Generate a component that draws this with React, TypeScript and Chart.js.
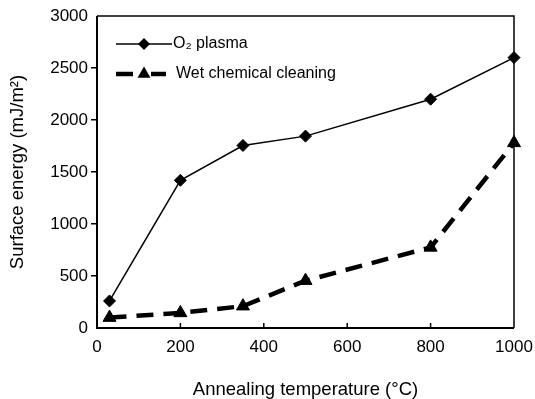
import React, { useEffect, useRef } from 'react';
import { Chart, registerables } from 'chart.js';

Chart.register(...registerables);

const temperatures = [30, 200, 350, 500, 800, 1000];
const o2Plasma = [260, 1420, 1755, 1845, 2200, 2600];
const wetCleaning = [100, 145, 210, 455, 775, 1780];
const xTicks = [0, 200, 400, 600, 800, 1000];
const yTicks = [0, 500, 1000, 1500, 2000, 2500, 3000];
const seriesLabels = ['O\u2082 plasma', 'Wet chemical cleaning'];
const xTitle = 'Annealing temperature (\u00B0C)';
const yTitle = 'Surface energy (mJ/m\u00B2)';

const FONT = "'Liberation Sans', Arial, sans-serif";

const framePlugin = {
  id: 'frame',
  afterDraw(chart: any) {
    const { ctx, chartArea, scales } = chart;
    const { left, right, top, bottom } = chartArea;
    const x = scales.x;
    ctx.save();
    ctx.strokeStyle = '#000';
    ctx.lineWidth = 1.5;
    ctx.beginPath();
    ctx.moveTo(left, top);
    ctx.lineTo(right, top);
    ctx.lineTo(right, bottom);
    ctx.stroke();
    ctx.lineWidth = 2;
    ctx.beginPath();
    ctx.moveTo(left, top);
    ctx.lineTo(left, bottom);
    ctx.lineTo(right, bottom);
    ctx.stroke();
    ctx.lineWidth = 1.5;
    xTicks.forEach((v) => {
      if (v <= x.min || v >= x.max) return;
      const px = x.getPixelForValue(v);
      ctx.beginPath();
      ctx.moveTo(px, bottom);
      ctx.lineTo(px, bottom - 5);
      ctx.stroke();
    });
    ctx.restore();
  },
};

const legendPlugin = {
  id: 'insideLegend',
  afterDraw(chart: any) {
    const { ctx, chartArea } = chart;
    const x0 = chartArea.left + 19;
    const y1 = chartArea.top + 28;
    const y2 = chartArea.top + 58;
    ctx.save();
    ctx.fillStyle = '#000';
    ctx.strokeStyle = '#000';
    ctx.lineWidth = 1.5;
    ctx.beginPath();
    ctx.moveTo(x0, y1);
    ctx.lineTo(x0 + 56, y1);
    ctx.stroke();
    const cx = x0 + 28;
    const r = 6;
    ctx.beginPath();
    ctx.moveTo(cx, y1 - r);
    ctx.lineTo(cx + r, y1);
    ctx.lineTo(cx, y1 + r);
    ctx.lineTo(cx - r, y1);
    ctx.closePath();
    ctx.fill();
    ctx.lineWidth = 4.5;
    ctx.beginPath();
    ctx.moveTo(x0, y2);
    ctx.lineTo(x0 + 17, y2);
    ctx.moveTo(x0 + 35, y2);
    ctx.lineTo(x0 + 50, y2);
    ctx.stroke();
    const tr = 7.5;
    ctx.beginPath();
    ctx.moveTo(cx, y2 - tr);
    ctx.lineTo(cx + tr * 0.866, y2 + tr / 2);
    ctx.lineTo(cx - tr * 0.866, y2 + tr / 2);
    ctx.closePath();
    ctx.fill();
    ctx.font = `16px ${FONT}`;
    ctx.textBaseline = 'middle';
    ctx.textAlign = 'left';
    ctx.fillText(seriesLabels[0], x0 + 57, y1);
    ctx.fillText(seriesLabels[1], x0 + 60, y2);
    ctx.restore();
  },
};

export default function App() {
  const ref = useRef<HTMLCanvasElement | null>(null);
  useEffect(() => {
    if (!ref.current) return;
    const chart = new Chart(ref.current, {
      type: 'line',
      data: {
        datasets: [
          {
            label: seriesLabels[0],
            data: temperatures.map((t, i) => ({ x: t, y: o2Plasma[i] })),
            borderColor: '#000',
            backgroundColor: '#000',
            borderWidth: 1.5,
            pointStyle: 'rectRot',
            pointRadius: 6,
            pointBackgroundColor: '#000',
            pointBorderColor: '#000',
            pointBorderWidth: 1,
            clip: false as any,
            tension: 0,
          },
          {
            label: seriesLabels[1],
            data: temperatures.map((t, i) => ({ x: t, y: wetCleaning[i] })),
            borderColor: '#000',
            backgroundColor: '#000',
            borderWidth: 4.5,
            borderDash: [17, 10],
            pointStyle: 'triangle',
            pointRadius: 7.5,
            pointBackgroundColor: '#000',
            pointBorderColor: '#000',
            pointBorderWidth: 1,
            clip: false as any,
            tension: 0,
          },
        ],
      },
      options: {
        responsive: false,
        animation: false,
        devicePixelRatio: 1,
        layout: { padding: { top: 16, right: 21, left: 0, bottom: 0 } },
        plugins: {
          legend: { display: false },
          tooltip: { enabled: false },
        },
        scales: {
          x: {
            type: 'linear',
            min: 0,
            max: 1000,
            afterBuildTicks: (scale: any) => {
              scale.ticks = xTicks.map((v) => ({ value: v }));
            },
            afterFit: (scale: any) => {
              scale.height = 71;
              scale.paddingLeft = 0;
              scale.paddingRight = 0;
            },
            grid: { display: false, drawTicks: false },
            border: { display: false },
            ticks: {
              color: '#000',
              padding: 9,
              maxRotation: 0,
              font: { family: FONT, size: 17 },
              callback: (v: any) => String(v),
            },
            title: {
              display: true,
              text: xTitle,
              color: '#000',
              padding: { top: 0, bottom: -2 },
              font: { family: FONT, size: 18.5 },
            },
          },
          y: {
            type: 'linear',
            min: 0,
            max: 3000,
            afterBuildTicks: (scale: any) => {
              scale.ticks = yTicks.map((v) => ({ value: v }));
            },
            afterFit: (scale: any) => {
              scale.width = 97;
              scale.paddingTop = 0;
              scale.paddingBottom = 0;
            },
            grid: {
              drawOnChartArea: false,
              drawTicks: true,
              tickLength: 6,
              lineWidth: 1.5,
              color: (c: any) =>
                c.tick && (c.tick.value === 0 || c.tick.value === 3000) ? 'rgba(0,0,0,0)' : '#000',
            },
            border: { display: false },
            ticks: {
              color: '#000',
              padding: 3,
              font: { family: FONT, size: 17 },
              callback: (v: any) => String(v),
            },
            title: {
              display: true,
              text: yTitle,
              color: '#000',
              padding: { top: 7, bottom: 0 },
              font: { family: FONT, size: 18.5 },
            },
          },
        },
      },
      plugins: [framePlugin, legendPlugin],
    });
    return () => chart.destroy();
  }, []);
  return (
    <div style={{ position: 'absolute', left: 0, top: 0, width: 535, height: 399, background: '#fff' }}>
      <canvas ref={ref} width={535} height={399} />
    </div>
  );
}
